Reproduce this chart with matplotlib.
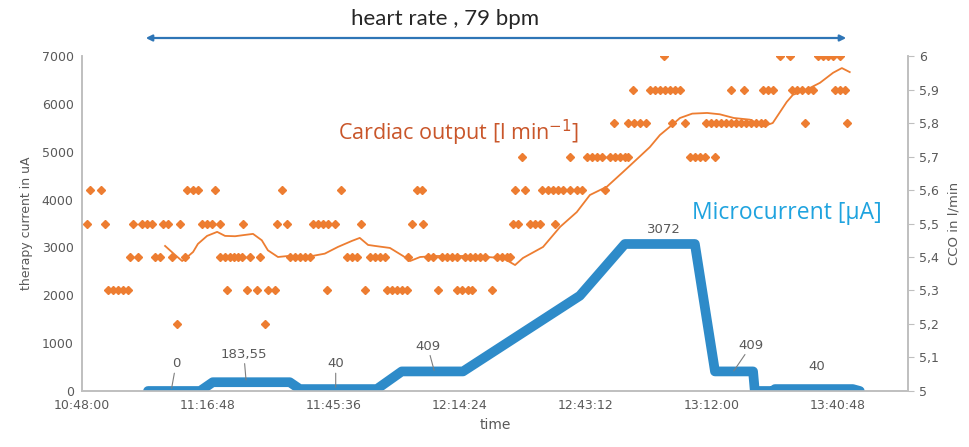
import numpy as np
import matplotlib.pyplot as plt
from matplotlib.ticker import FuncFormatter, FixedLocator

# time is in minutes after 10:48:00
# microcurrent (left axis, uA)
mc_time = [15.1, 27.0, 29.9, 47.5, 49.8, 67.4, 73.1, 87.1, 113.8, 124.1,
           140.1, 144.7, 153.4, 153.8, 157.9, 158.4, 176.2, 177.8]
mc_value = [0, 0, 183.55, 183.55, 40, 40, 409, 409, 1990, 3072,
            3072, 409, 409, 0, 0, 40, 40, 0]

# data labels on the microcurrent line
mc_label_text = ["0", "183,55", "40", "409", "3072", "409", "40"]

# cardiac output samples (right axis, l/min), grouped by level
cco_52 = [21.7, 41.8]
cco_53 = [5.9, 7.1, 8.2, 9.4, 10.5, 33.1, 37.7, 40.0, 42.5, 44.1, 56.0, 64.7,
          69.7, 70.9, 72.0, 73.1, 74.3, 81.4, 85.7, 86.9, 88.2, 89.1, 93.7]
cco_54 = [11.0, 12.8, 16.7, 17.8, 20.6, 23.5, 31.5, 32.7, 33.8, 34.8, 35.7, 36.6,
          38.4, 40.7, 47.5, 48.7, 49.8, 51.0, 52.1, 60.6, 61.7, 62.9,
          65.8, 67.0, 68.1, 69.3, 74.5, 79.1, 80.2, 82.3, 83.4, 84.6, 85.7,
          87.5, 88.7, 89.8, 91.0, 92.1, 94.9, 96.0, 97.1, 97.8]
cco_55 = [1.1, 5.3, 11.7, 13.7, 14.9, 16.0, 18.5, 19.7, 22.4, 27.4, 28.6, 29.7,
          31.5, 36.8, 44.6, 46.9, 52.8, 53.9, 55.1, 56.2, 57.8, 63.8, 75.4, 77.9,
          98.5, 99.6, 102.4, 103.5, 104.7, 108.1]
cco_56 = [1.8, 4.3, 24.0, 25.4, 26.5, 30.4, 45.7, 59.2, 76.6, 77.7, 99.0, 101.3,
          105.1, 106.5, 107.7, 108.8, 109.9, 111.5, 113.1, 114.3, 119.5]
cco_57 = [100.6, 111.5, 115.4, 116.6, 117.7, 118.9, 120.7, 121.8, 123.0, 124.1,
          124.8, 139.0, 140.1, 141.3, 142.4, 144.7]
cco_58 = [121.6, 124.8, 126.2, 127.5, 128.9, 134.9, 137.8,
          142.6, 143.8, 144.9, 146.1, 147.2, 148.3, 149.5, 150.6, 151.8, 152.9,
          154.1, 155.2, 156.1, 165.3, 174.9]
cco_59 = [125.9, 129.8, 131.0, 132.1, 133.3, 134.4, 135.5, 136.7, 148.3, 151.3,
          155.7, 156.8, 157.9, 162.3, 163.4, 164.6, 165.9, 167.1, 172.1, 173.3, 174.4]
cco_60 = [133.0, 159.5, 161.8, 168.2, 169.4, 170.5, 171.7, 173.3]

# moving average of cardiac output
avg_time = [19.0, 21.3, 22.9, 23.8, 25.4, 26.5, 28.6, 30.9, 32.7, 35.0, 37.3, 39.1,
            41.1, 42.5, 44.8, 47.1, 52.6, 55.5, 58.5, 61.7, 63.5, 65.4, 67.0,
            70.4, 73.4, 75.0, 77.3, 81.1, 88.7, 96.2, 97.8, 99.0, 100.8, 105.4,
            109.3, 113.1, 116.1, 120.0, 123.7, 127.5, 129.8, 132.1, 134.5, 136.7,
            139.5, 142.9, 145.8, 149.0, 152.7, 155.7, 157.9, 161.1, 162.5, 165.7,
            168.7, 171.7, 173.7, 175.5]
avg_value = [5.433, 5.406, 5.388, 5.397, 5.415, 5.439, 5.463, 5.475, 5.463, 5.462,
             5.466, 5.469, 5.450, 5.420, 5.400, 5.403, 5.403, 5.410, 5.430, 5.448,
             5.457, 5.436, 5.433, 5.427, 5.403, 5.388, 5.400, 5.403, 5.403, 5.397,
             5.385, 5.376, 5.397, 5.430, 5.490, 5.534, 5.585, 5.610, 5.654, 5.700,
             5.728, 5.764, 5.790, 5.815, 5.828, 5.830, 5.826, 5.815, 5.810, 5.790,
             5.800, 5.863, 5.884, 5.900, 5.920, 5.950, 5.964, 5.952]

ORANGE = "#ED7D31"
BLUE = "#2E8BC9"
GRAY = "#595959"

fig = plt.figure(figsize=(9.70, 4.47), dpi=100)
ax = fig.add_axes([0.0845, 0.1253, 0.8515, 0.7494])
ax2 = ax.twinx()

# microcurrent
ax.plot(mc_time, mc_value, color=BLUE, lw=7, solid_capstyle="round",
        solid_joinstyle="round", zorder=3)
ax.set_ylim(0, 7000)
ax.set_xlim(0, 188.8)
ax.yaxis.set_major_locator(FixedLocator(np.arange(0, 7001, 1000)))

# cardiac output scatter + average
levels = [5.2, 5.3, 5.4, 5.5, 5.6, 5.7, 5.8, 5.9, 6.0]
groups = [cco_52, cco_53, cco_54, cco_55, cco_56, cco_57, cco_58, cco_59, cco_60]
for lvl, times in zip(levels, groups):
    ax2.plot(times, [lvl] * len(times), ls="none", marker="D", ms=4.5,
             color=ORANGE, mec=ORANGE, zorder=2)
ax2.plot(avg_time, avg_value, color=ORANGE, lw=1.3, zorder=2)
ax2.set_ylim(5, 6)
ax2.yaxis.set_major_locator(FixedLocator(np.arange(5.0, 6.01, 0.1)))
ax2.yaxis.set_major_formatter(FuncFormatter(
    lambda v, p: ("%g" % round(v, 1)).replace(".", ",")))

# x axis as clock time
ax.xaxis.set_major_locator(FixedLocator(np.arange(0, 180, 28.8)))


def clock(m, pos):
    s = int(round(m * 60)) + 10 * 3600 + 48 * 60
    return f"{s // 3600}:{(s % 3600) // 60:02d}:{s % 60:02d}"


ax.xaxis.set_major_formatter(FuncFormatter(clock))

for a in (ax, ax2):
    a.spines["top"].set_visible(False)
    for sp in a.spines.values():
        sp.set_color("#BFBFBF")
        sp.set_linewidth(1.2)
ax.tick_params(axis="both", length=0, colors=GRAY, labelsize=9, pad=6)
ax2.tick_params(axis="y", length=4, color="#BFBFBF", labelcolor=GRAY,
                labelsize=9, pad=4)

ax.set_ylabel("therapy current in uA", color=GRAY, fontsize=9, labelpad=6)
ax2.set_ylabel("CCO in l/min", color=GRAY, fontsize=9.5, labelpad=6)
ax.set_xlabel("time", color=GRAY, fontsize=10, labelpad=4)

# data labels with leader lines
label_pos = [(21.5, 430), (37.0, 630), (58.0, 430), (79.0, 800), (133.0, 3240),
             (153.0, 820), (168.0, 380)]
label_tip = [(20.5, 60), (37.5, 230), (58.0, 80), (80.5, 430), None,
             (149.0, 420), None]
for txt, pos, tip in zip(mc_label_text, label_pos, label_tip):
    if tip is None:
        ax.text(pos[0], pos[1], txt, color=GRAY, fontsize=9.5, ha="center",
                va="bottom", zorder=5)
    else:
        ax.annotate(txt, xy=tip, xytext=pos, color=GRAY, fontsize=9.5,
                    ha="center", va="bottom", zorder=5,
                    arrowprops=dict(arrowstyle="-", color="#7F7F7F", lw=0.8,
                                    shrinkA=0, shrinkB=0))

ax.text(58.5, 5250, "Cardiac output [l min$^{-1}$]", color="#C9562A",
        fontsize=15.5, family="Open Sans", zorder=5)
ax.text(139.5, 3600, "Microcurrent [\u00b5A]", color="#1FA3DF",
        fontsize=16.5, family="Open Sans", zorder=5)

# heart rate arrow and title
fig.text(0.459, 0.958, "heart rate , 79 bpm", ha="center", va="center",
         fontsize=16, family="Lato", color="#262626")
fig.add_artist(plt.matplotlib.patches.FancyArrowPatch(
    (143 / 970, 1 - 38 / 447), (849 / 970, 1 - 38 / 447),
    transform=fig.transFigure, arrowstyle="<|-|>", mutation_scale=9,
    color="#2E75B6", lw=1.6))

fig.savefig("out.png", dpi=100)
